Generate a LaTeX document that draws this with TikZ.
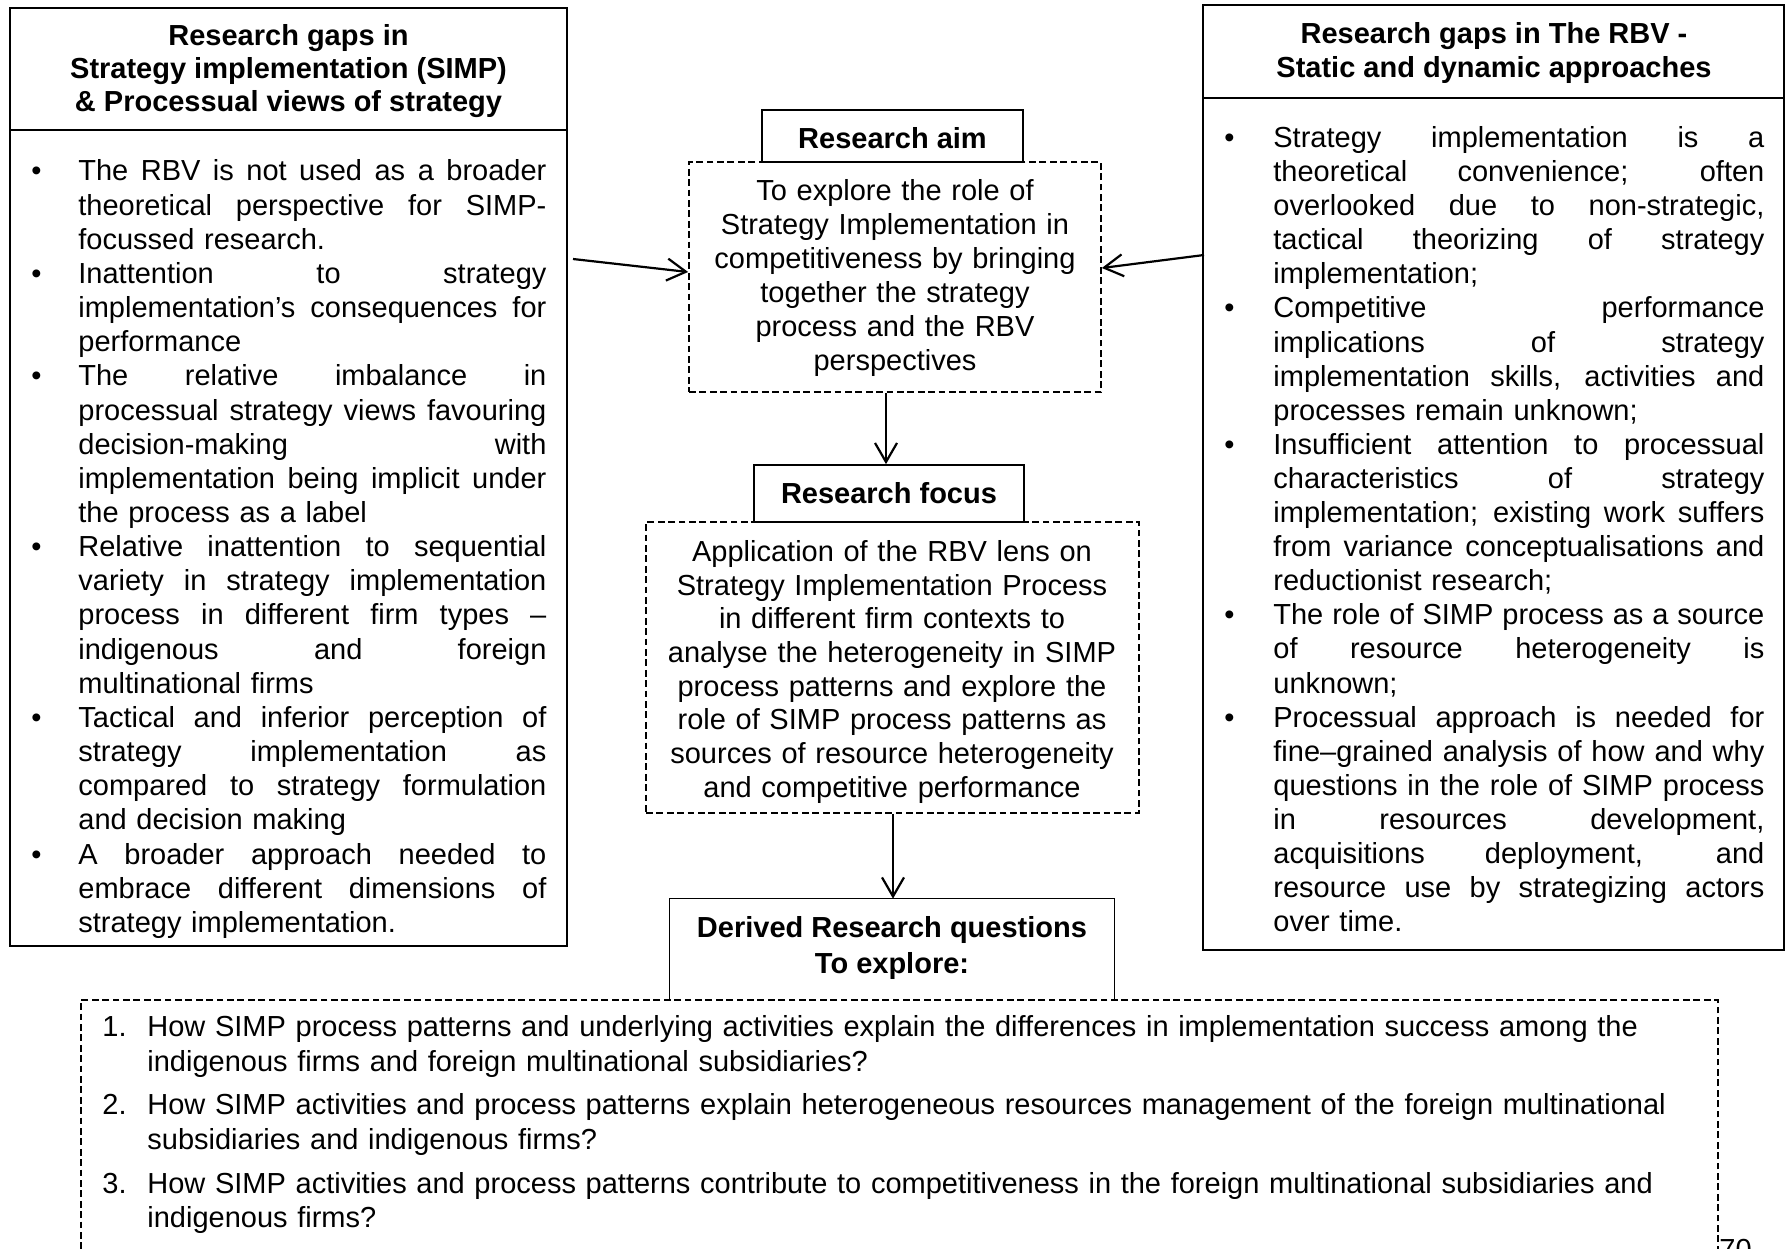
\documentclass[tikz,border=0pt]{standalone}
\usepackage{fontspec}
\setmainfont{Liberation Sans}
\usetikzlibrary{arrows.meta,fit}
\setlength{\parindent}{0pt}
\newcommand\jw{234pt}
\newcommand\jl[1]{\leavevmode\hbox to \jw{\spaceskip=\fontdimen2\font plus 1fil minus 0.1em\relax\xspaceskip=\spaceskip #1}\par}
\newcommand\lbul{\leavevmode\llap{\makebox[23.5pt][l]{•}}}
\newcommand\rbul{\leavevmode\llap{\makebox[24.5pt][l]{•}}}
\newcommand\fst{\rule{0pt}{12pt}}
\newcommand\qind{\hspace*{22.5pt}}
\begin{document}
\begin{tikzpicture}[x=0.5pt,y=-0.5pt,
  solidbox/.style={draw, line width=0.85pt, inner sep=0pt},
  dashbox/.style={draw, line width=0.85pt, dash pattern=on 3.4pt off 1.8pt, inner sep=0pt},
  plainbox/.style={inner sep=0pt},
  bodytext/.style={inner sep=0pt, font=\fontsize{14.5}{17.08}\selectfont},
  titletext/.style={inner sep=0pt, align=center, font=\fontsize{14.5}{16.6}\selectfont\bfseries},
  arr/.style={-{Straight Barb[length=9.5pt,width=11pt]}, line width=1.1pt}]
\useasboundingbox (0,0) rectangle (1788,1248);
\fill[white] (0,0) rectangle (1788,1248);

% boxes
\node[solidbox, fit={(10,8)(567,130)}] (ltitle) {};
\node[solidbox, fit={(10,130)(567,946)}] (lbody) {};
\node[solidbox, fit={(1203,5)(1784,98)}] (rtitle) {};
\node[solidbox, fit={(1203,98)(1784,950)}] (rbody) {};
\node[solidbox, fit={(762,110)(1023,162)}] (aimtitle) {};
\node[dashbox, fit={(689,162)(1101,392)}] (aimbody) {};
\node[solidbox, fit={(754,465)(1024,522)}] (ftitle) {};
\node[dashbox, fit={(646,522)(1139,813)}] (fbody) {};
\node[plainbox, fit={(670,899)(1114,1000)}] (dtitle) {};
\draw[line width=0.85pt] (dtitle.south west) |- (dtitle.north east) -- (dtitle.south east);
\node[dashbox, fit={(81,1000)(1718,1290)}] (qbox) {};

% titles
\node[titletext, anchor=north] (ltitletxt) at (288.5,21) {\fst Research gaps in\\Strategy implementation (SIMP)\\\& Processual views of strategy};
\node[titletext, anchor=north, font=\fontsize{14.5}{16.8}\selectfont\bfseries] (rtitletxt) at (1494,19.5) {\fst Research gaps in The RBV -\\Static and dynamic approaches};
\node[titletext, anchor=north] (aimtitletxt) at (892.5,124) {\fst Research aim};
\node[titletext, anchor=north] (ftitletxt) at (889,479) {\fst Research focus};
\node[titletext, anchor=north, font=\fontsize{14.5}{18}\selectfont\bfseries] (dtitletxt) at (892,913) {\fst Derived Research questions\\To explore:};

% aim text
\node[bodytext, anchor=north, text width=230pt, align=center, font=\fontsize{14.5}{17}\selectfont] (aimtxt) at (895,176) {\fst To explore the role of\\Strategy Implementation in\\competitiveness by bringing\\together the strategy\\process and the RBV\\perspectives};

% focus text
\node[bodytext, anchor=north, text width=245pt, align=center, font=\fontsize{14.5}{16.85}\selectfont] (ftxt) at (892,537) {\fst Application of the RBV lens on\\Strategy Implementation Process\\in different firm contexts to\\analyse the heterogeneity in SIMP\\process patterns and explore the\\role of SIMP process patterns as\\sources of resource heterogeneity\\and competitive performance};

% left body
\node[bodytext, anchor=north west, text width=234pt] (ltxt) at (78,156.5) {%
\renewcommand\jw{234pt}%
\lbul\fst\jl{The RBV is not used as a broader}
\jl{theoretical perspective for SIMP-}
focussed research.\par
\lbul\jl{Inattention to strategy}
\jl{implementation’s consequences for}
performance\par
\lbul\jl{The relative imbalance in}
\jl{processual strategy views favouring}
\jl{decision-making with}
\jl{implementation being implicit under}
the process as a label\par
\lbul\jl{Relative inattention to sequential}
\jl{variety in strategy implementation}
\jl{process in different firm types –}
\jl{indigenous and foreign}
multinational firms\par
\lbul\jl{Tactical and inferior perception of}
\jl{strategy implementation as}
\jl{compared to strategy formulation}
and decision making\par
\lbul\jl{A broader approach needed to}
\jl{embrace different dimensions of}
strategy implementation.\par};

% right body
\node[bodytext, anchor=north west, text width=245.5pt, font=\fontsize{14.5}{17.05}\selectfont] (rtxt) at (1273,123) {%
\renewcommand\jw{245.5pt}%
\rbul\fst\jl{Strategy implementation is a}
\jl{theoretical convenience; often}
\jl{overlooked due to non-strategic,}
\jl{tactical theorizing of strategy}
implementation;\par
\rbul\jl{Competitive performance}
\jl{implications of strategy}
\jl{implementation skills, activities and}
processes remain unknown;\par
\rbul\jl{Insufficient attention to processual}
\jl{characteristics of strategy}
\jl{implementation; existing work suffers}
\jl{from variance conceptualisations and}
reductionist research;\par
\rbul\jl{The role of SIMP process as a source}
\jl{of resource heterogeneity is}
unknown;\par
\rbul\jl{Processual approach is needed for}
\jl{fine–grained analysis of how and why}
\jl{questions in the role of SIMP process}
\jl{in resources development,}
\jl{acquisitions deployment, and}
\jl{resource use by strategizing actors}
over time.\par};

% questions
\node[anchor=north west, inner sep=0pt, text width=805pt, font=\fontsize{14.5}{17.3}\selectfont] (qtxt) at (102,1012) {%
\fst\makebox[22.5pt][l]{1.}How SIMP process patterns and underlying activities explain the differences in implementation success among the\par
\qind indigenous firms and foreign multinational subsidiaries?\par\vspace{4.6pt}
\makebox[22.5pt][l]{2.}How SIMP activities and process patterns explain heterogeneous resources management of the foreign multinational\par
\qind subsidiaries and indigenous firms?\par\vspace{4.6pt}
\makebox[22.5pt][l]{3.}How SIMP activities and process patterns contribute to competitiveness in the foreign multinational subsidiaries and\par
\qind indigenous firms?\par};

\node[bodytext, anchor=base west] (pnum) at (1719,1259) {70};

% connectors
\coordinate (la) at (573,259);
\coordinate (ra) at (1204,255);
\coordinate (c1) at (886,0);
\coordinate (c2) at (893,0);
\draw[arr] (la) -- ([yshift=2.5pt]aimbody.west);
\draw[arr] (ra) -- ([yshift=4.5pt]aimbody.east);
\draw[arr] (aimbody.south -| c1) -- (ftitle.north -| c1);
\draw[arr] (fbody.south -| c2) -- (dtitle.north -| c2);
\end{tikzpicture}
\end{document}
